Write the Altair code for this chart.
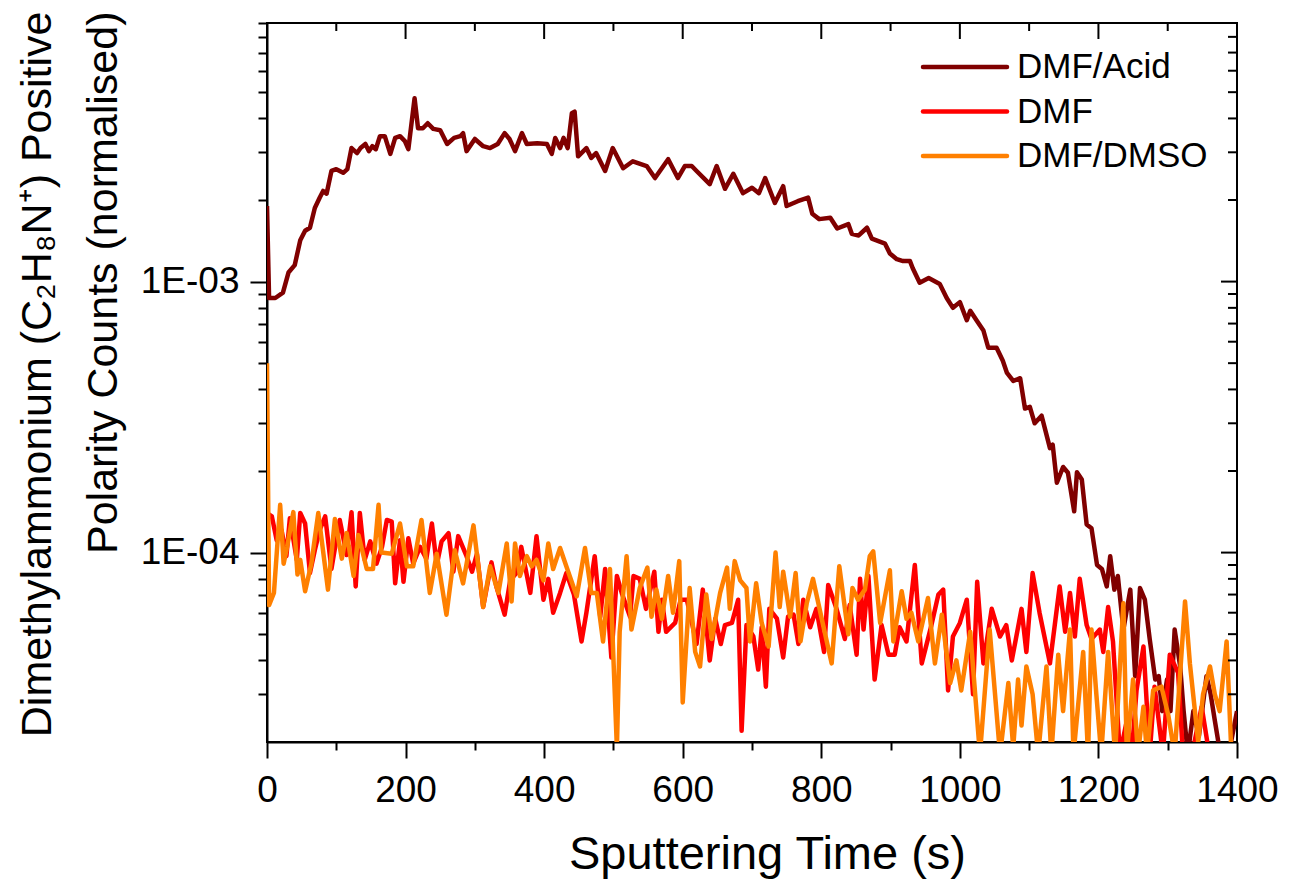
import altair as alt
import pandas as pd

SERIES = ["DMF/Acid", "DMF", "DMF/DMSO"]
COLORS = ["#800000", "#ff0000", "#ff8000"]

# (sputtering time s, normalised counts)
acid = [(0,1.90e-3),(3,8.7e-4),(12,8.7e-4),(23,9.1e-4),(31,1.08e-3),(40,1.15e-3),(48,1.42e-3),(55,1.54e-3),
        (62,1.58e-3),(69,1.87e-3),(76,2.04e-3),(81,2.16e-3),(86,2.11e-3),(93,2.56e-3),(100,2.60e-3),(110,2.52e-3),
        (116,2.60e-3),(122,3.11e-3),(130,2.98e-3),(135,3.11e-3),(142,3.22e-3),(147,3.03e-3),(152,3.16e-3),
        (157,3.08e-3),(163,3.44e-3),(170,3.44e-3),(178,2.96e-3),(185,3.39e-3),(192,3.44e-3),(199,3.30e-3),
        (204,3.08e-3),(213,4.75e-3),(218,3.68e-3),(225,3.68e-3),(232,3.84e-3),(240,3.66e-3),(250,3.62e-3),
        (260,3.22e-3),(270,3.39e-3),(279,3.44e-3),(283,3.53e-3),(288,3.03e-3),(300,3.36e-3),(312,3.16e-3),
        (322,3.11e-3),(333,3.22e-3),(343,3.53e-3),(350,3.36e-3),(358,3.03e-3),(368,3.53e-3),(375,3.22e-3),
        (390,3.24e-3),(404,3.22e-3),(411,2.96e-3),(416,3.39e-3),(423,3.11e-3),(428,3.39e-3),(434,3.11e-3),
        (440,4.18e-3),(444,4.24e-3),(449,2.90e-3),(461,3.11e-3),(468,2.86e-3),(475,2.98e-3),(488,2.56e-3),
        (499,3.11e-3),(514,2.62e-3),(528,2.78e-3),(548,2.67e-3),(560,2.41e-3),(579,2.83e-3),(593,2.41e-3),
        (603,2.67e-3),(613,2.67e-3),(620,2.56e-3),(639,2.29e-3),(649,2.67e-3),(661,2.20e-3),(673,2.50e-3),
        (687,2.12e-3),(700,2.22e-3),(710,2.12e-3),(719,2.41e-3),(733,1.95e-3),(745,2.25e-3),(750,1.90e-3),
        (766,1.98e-3),(781,2.04e-3),(787,1.78e-3),(797,1.70e-3),(813,1.72e-3),(823,1.57e-3),(839,1.63e-3),
        (844,1.50e-3),(854,1.48e-3),(866,1.58e-3),(873,1.44e-3),(892,1.38e-3),(899,1.27e-3),(909,1.21e-3),
        (918,1.19e-3),(928,1.19e-3),(932,1.12e-3),(942,9.9e-4),(955,1.03e-3),(971,9.8e-4),(981,8.7e-4),
        (990,8.0e-4),(1000,8.4e-4),(1010,7.2e-4),(1015,7.8e-4),(1024,7.2e-4),(1034,6.6e-4),(1041,5.7e-4),
        (1053,5.7e-4),(1062,5.1e-4),(1068,4.6e-4),(1077,4.3e-4),(1087,4.4e-4),(1094,3.4e-4),(1101,3.45e-4),
        (1108,3.0e-4),(1118,3.2e-4),(1130,2.43e-4),(1134,2.5e-4),(1140,1.81e-4),(1149,2.07e-4),(1156,1.97e-4),
        (1165,1.42e-4),(1169,1.98e-4),(1176,1.86e-4),(1183,1.27e-4),(1190,1.23e-4),(1198,9.0e-5),(1205,8.7e-5),
        (1212,7.5e-5),(1217,9.7e-5),(1223,7.3e-5),(1228,8.2e-5),(1236,5.2e-5),(1246,7.3e-5),(1253,3.5e-5),
        (1260,7.4e-5),(1267,6.7e-5),(1274,4.8e-5),(1282,3.4e-5),(1287,3.5e-5),(1292,2.6e-5),(1299,3.4e-5),
        (1304,2.6e-5),(1310,5.2e-5),(1318,3.8e-5),(1323,2.6e-5),(1329,1.8e-5),(1337,2.6e-5),(1345,2.1e-5),
        (1356,3.5e-5),(1362,3.0e-5),(1368,2.4e-5),(1376,1.8e-5),(1388,1.8e-5),(1400,2.6e-5)]

dmf = [(0,1.40e-4),(7,1.36e-4),(14,1.11e-4),(21,1.21e-4),(28,9.7e-5),(33,1.34e-4),(43,9.4e-5),(48,1.40e-4),
       (55,1.28e-4),(62,8.4e-5),(69,1.02e-4),(76,1.21e-4),(84,1.36e-4),(93,8.7e-5),(105,1.32e-4),(115,9.8e-5),
       (122,1.41e-4),(128,7.5e-5),(134,1.40e-4),(141,9.4e-5),(149,1.10e-4),(158,9.1e-5),(166,1.05e-4),
       (173,1.32e-4),(180,1.30e-4),(185,7.7e-5),(192,1.11e-4),(197,7.8e-5),(204,1.13e-4),(211,9.1e-5),
       (221,1.05e-4),(230,9.5e-5),(238,1.28e-4),(245,9.0e-5),(252,1.10e-4),(262,1.18e-4),(269,8.5e-5),
       (276,1.15e-4),(288,9.7e-5),(296,8.5e-5),(303,9.9e-5),(312,6.3e-5),(324,9.2e-5),(331,7.5e-5),(343,5.9e-5),
       (351,7.9e-5),(360,8.4e-5),(367,1.05e-4),(380,7.1e-5),(389,1.15e-4),(399,6.7e-5),(406,8.0e-5),(413,6.0e-5),
       (423,7.1e-5),(432,8.4e-5),(443,7.0e-5),(454,4.7e-5),(461,6.0e-5),(473,9.7e-5),(481,5.8e-5),(488,8.7e-5),
       (497,4.1e-5),(505,8.2e-5),(512,7.1e-5),(524,5.8e-5),(529,8.2e-5),(538,8.0e-5),(547,6.2e-5),(559,8.5e-5),
       (565,5.1e-5),(570,6.7e-5),(576,5.1e-5),(589,5.5e-5),(597,6.7e-5),(606,6.7e-5),(620,4.6e-5),(629,7.3e-5),
       (639,4.0e-5),(647,5.7e-5),(655,4.6e-5),(661,5.4e-5),(671,5.5e-5),(680,6.7e-5),(685,2.2e-5),(692,5.4e-5),
       (702,4.9e-5),(709,3.7e-5),(714,5.3e-5),(720,3.2e-5),(725,6.2e-5),(736,5.7e-5),(745,4.1e-5),(752,5.8e-5),
       (760,5.9e-5),(767,4.6e-5),(774,6.7e-5),(784,5.3e-5),(793,6.2e-5),(804,4.3e-5),(810,7.6e-5),(822,6.2e-5),
       (834,4.8e-5),(841,6.4e-5),(851,4.2e-5),(856,8.0e-5),(861,5.2e-5),(868,8.2e-5),(877,3.4e-5),(887,5.4e-5),
       (897,4.2e-5),(906,4.2e-5),(913,5.3e-5),(923,4.7e-5),(935,9.0e-5),(945,3.9e-5),(959,5.4e-5),(969,7.0e-5),
       (976,7.3e-5),(983,3.1e-5),(990,4.9e-5),(1000,5.5e-5),(1010,6.7e-5),(1019,3.0e-5),(1025,7.8e-5),
       (1034,3.9e-5),(1046,6.2e-5),(1058,4.9e-5),(1067,5.4e-5),(1075,4.0e-5),(1089,6.2e-5),(1096,4.3e-5),
       (1105,8.4e-5),(1115,6.0e-5),(1130,3.9e-5),(1144,7.5e-5),(1152,5.1e-5),(1159,7.1e-5),(1166,4.9e-5),
       (1173,8.0e-5),(1183,5.4e-5),(1190,4.8e-5),(1202,5.2e-5),(1207,4.3e-5),(1214,6.3e-5),(1221,4.7e-5),
       (1231,1.8e-5),(1241,2.4e-5),(1248,1.8e-5),(1255,3.1e-5),(1265,4.5e-5),(1274,1.8e-5),(1281,3.2e-5),
       (1293,1.8e-5),(1303,4.2e-5),(1315,3.6e-5),(1322,1.8e-5),(1335,1.8e-5),(1349,2.7e-5),(1360,1.8e-5),
       (1380,1.8e-5),(1400,1.8e-5)]

dmso = [(0,5.0e-4),(3,6.4e-5),(10,7.1e-5),(19,1.50e-4),(24,9.1e-5),(29,1.05e-4),(38,1.41e-4),(44,8.3e-5),
        (48,9.4e-5),(55,7.2e-5),(64,9.1e-5),(74,1.40e-4),(88,7.3e-5),(98,1.33e-4),(108,9.5e-5),(115,1.18e-4),
        (125,8.2e-5),(132,1.16e-4),(144,8.7e-5),(153,8.7e-5),(161,1.50e-4),(165,1.00e-4),(180,9.9e-5),
        (192,1.28e-4),(202,8.9e-5),(211,8.9e-5),(223,1.32e-4),(235,7.1e-5),(245,9.9e-5),(259,5.9e-5),
        (271,1.02e-4),(283,7.7e-5),(298,1.26e-4),(312,6.3e-5),(322,8.9e-5),(334,7.1e-5),(346,1.08e-4),
        (353,6.6e-5),(358,1.08e-4),(365,8.2e-5),(375,9.7e-5),(382,8.9e-5),(389,9.4e-5),(399,7.9e-5),
        (406,1.08e-4),(413,8.7e-5),(423,1.04e-4),(432,8.9e-5),(447,6.9e-5),(459,1.04e-4),(468,7.1e-5),
        (476,7.1e-5),(485,4.7e-5),(495,8.7e-5),(505,1.9e-5),(509,5.1e-5),(519,9.7e-5),(526,5.2e-5),(538,7.4e-5),
        (549,8.8e-5),(555,5.8e-5),(562,7.3e-5),(570,5.7e-5),(579,8.2e-5),(586,6.0e-5),(595,9.3e-5),(600,2.8e-5),
        (610,7.4e-5),(618,4.3e-5),(625,3.8e-5),(634,7.0e-5),(642,4.8e-5),(654,7.1e-5),(664,8.8e-5),(668,6.2e-5),
        (675,9.3e-5),(683,7.9e-5),(692,7.4e-5),(697,4.7e-5),(706,7.7e-5),(714,5.5e-5),(724,4.5e-5),(734,1.0e-4),
        (740,6.3e-5),(745,8.5e-5),(755,5.8e-5),(763,8.4e-5),(770,4.7e-5),(779,6.5e-5),(788,8.0e-5),(800,5.8e-5),
        (815,3.9e-5),(826,8.9e-5),(839,5.0e-5),(845,7.4e-5),(853,6.7e-5),(863,7.3e-5),(870,9.7e-5),(875,1.01e-4),
        (885,5.5e-5),(899,8.6e-5),(904,4.7e-5),(916,7.2e-5),(923,5.7e-5),(930,6.0e-5),(940,4.7e-5),(954,6.8e-5),
        (964,3.9e-5),(974,5.9e-5),(986,3.3e-5),(995,4.0e-5),(1002,3.1e-5),(1015,5.1e-5),(1029,1.8e-5),
        (1043,5.2e-5),(1058,1.8e-5),(1070,3.3e-5),(1077,1.9e-5),(1084,3.4e-5),(1089,2.3e-5),(1096,3.8e-5),
        (1105,3.0e-5),(1113,1.8e-5),(1125,3.8e-5),(1132,1.8e-5),(1142,4.2e-5),(1149,2.6e-5),(1159,5.2e-5),
        (1164,1.8e-5),(1178,4.3e-5),(1185,1.8e-5),(1190,5.2e-5),(1197,3.0e-5),(1204,1.8e-5),(1214,4.3e-5),
        (1224,1.8e-5),(1236,6.5e-5),(1241,1.8e-5),(1250,3.4e-5),(1257,1.8e-5),(1265,2.7e-5),(1270,1.8e-5),
        (1279,3.1e-5),(1291,3.2e-5),(1301,2.5e-5),(1310,1.8e-5),(1325,6.6e-5),(1332,3.9e-5),(1344,2.0e-5),
        (1351,3.0e-5),(1361,3.8e-5),(1368,3.0e-5),(1375,2.6e-5),(1385,4.7e-5),(1392,1.8e-5),(1400,1.8e-5)]

X_TICKS = list(range(0, 1401, 100))
Y_TICKS = [k * 10.0 ** e for e in (-5, -4, -3) for k in range(1, 10) if 2.5e-5 < k * 10.0 ** e < 9.5e-3]
Y_MAJOR = [1e-4, 1e-3]
Y_MINOR = [v for v in Y_TICKS if all(abs(v - m) > 1e-9 for m in Y_MAJOR)]

Y_TITLE = ["Dimethylammonium (C\u2082H\u2088N\u207a) Positive", "Polarity Counts (normalised)"]
X_TITLE = "Sputtering Time (s)"

W, H = 970, 719
FONT = "Liberation Sans"

xs = alt.Scale(domain=[0, 1400], nice=False, zero=False)
ys = alt.Scale(type="log", domain=[2e-5, 9e-3], nice=False)

y_major_test = "abs(log(datum.value)/LN10 - round(log(datum.value)/LN10)) < 0.001"

x_axis = alt.Axis(
    values=X_TICKS, format="d", grid=False, labelFlush=False, labelOverlap=False,
    labelExpr="datum.value % 200 == 0 ? datum.label : ''",
    tickSize={"condition": {"test": "datum.value % 200 == 0", "value": 16}, "value": 8},
    labelPadding=14, labelFontSize=37,
    title=X_TITLE, titleFontSize=47, titleX=500, titleY=126, titleBaseline="alphabetic",
    titleAlign="center",
)
y_axis = alt.Axis(
    values=Y_TICKS, grid=False, labelFlush=False, labelOverlap=False,
    labelExpr="abs(log(datum.value)/LN10 + 3) < 0.001 ? '1E-03' : (abs(log(datum.value)/LN10 + 4) < 0.001 ? '1E-04' : '')",
    tickSize={"condition": {"test": y_major_test, "value": 17}, "value": 9},
    labelPadding=11, labelFontSize=37,
    title=Y_TITLE, titleFontSize=43, titleAngle=270, titleAlign="right", titleBaseline="alphabetic",
    titleX=-217, titleY=-12, titleLineHeight=66,
)

layers = []
for i, (name, pts, col) in enumerate(zip(SERIES, [acid, dmf, dmso], COLORS)):
    df = pd.DataFrame(pts, columns=["t", "v"])
    if i == 0:
        ex = alt.X("t:Q", scale=xs, axis=x_axis)
        ey = alt.Y("v:Q", scale=ys, axis=y_axis)
    else:
        ex = alt.X("t:Q", scale=xs)
        ey = alt.Y("v:Q", scale=ys)
    layers.append(
        alt.Chart(df).mark_line(color=col, strokeWidth=4.5, strokeJoin="round", clip=True).encode(x=ex, y=ey)
    )

# inward ticks on the top and right frame edges
top_major = pd.DataFrame({"t": [v for v in X_TICKS if v % 200 == 0]})
top_minor = pd.DataFrame({"t": [v for v in X_TICKS if v % 200 != 0]})
layers.append(alt.Chart(top_major).mark_rule(color="black", strokeWidth=2).encode(
    x=alt.X("t:Q", scale=xs), y=alt.value(0), y2=alt.value(16)))
layers.append(alt.Chart(top_minor).mark_rule(color="black", strokeWidth=2).encode(
    x=alt.X("t:Q", scale=xs), y=alt.value(0), y2=alt.value(8)))
right_major = pd.DataFrame({"v": Y_MAJOR})
right_minor = pd.DataFrame({"v": Y_MINOR})
layers.append(alt.Chart(right_major).mark_rule(color="black", strokeWidth=2).encode(
    y=alt.Y("v:Q", scale=ys), x=alt.value(W), x2=alt.value(W - 16)))
layers.append(alt.Chart(right_minor).mark_rule(color="black", strokeWidth=2).encode(
    y=alt.Y("v:Q", scale=ys), x=alt.value(W), x2=alt.value(W - 9)))

# legend
for i, (name, col) in enumerate(zip(SERIES, COLORS)):
    ly = 44 + i * 44.5
    ldf = pd.DataFrame({"s": [name]})
    layers.append(alt.Chart(ldf).mark_rule(color=col, strokeWidth=4.5, strokeCap="round").encode(
        x=alt.value(656), x2=alt.value(740), y=alt.value(ly)))
    layers.append(alt.Chart(ldf).mark_text(align="left", baseline="middle", font=FONT, fontSize=35,
                                           color="black").encode(
        x=alt.value(750), y=alt.value(ly), text="s:N"))

chart = alt.layer(*layers).properties(
    width=W, height=H,
    padding={"left": 267, "top": 23, "right": 62, "bottom": 139},
    autosize=alt.AutoSizeParams(type="none"),
    background="white",
).configure_axis(
    domainColor="black", domainWidth=2, tickColor="black", tickWidth=2,
    labelColor="black", titleColor="black", labelFont=FONT, titleFont=FONT,
    titleFontWeight="normal",
).configure_view(stroke="black", strokeWidth=2)

chart.save("out.html", embed_options={"renderer": "svg", "actions": False})
